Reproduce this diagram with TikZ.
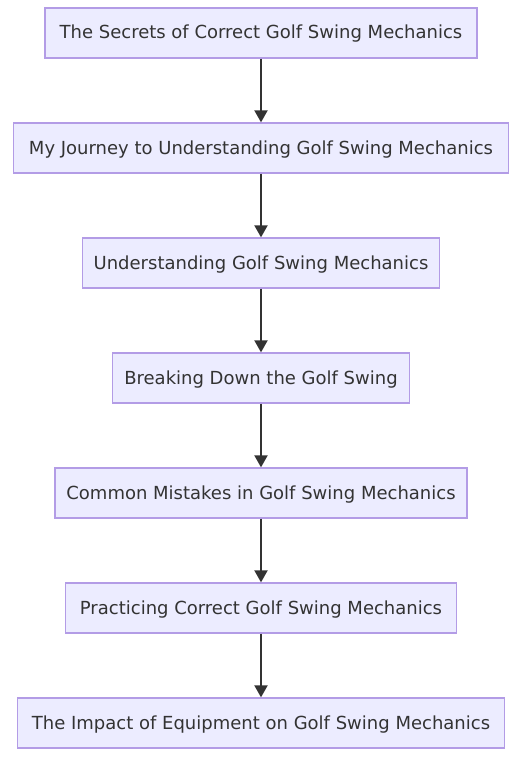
\documentclass[tikz,border=0pt]{standalone}
\usepackage{fontspec}
\setmainfont{DejaVu Sans}
\usetikzlibrary{arrows.meta}

\definecolor{boxfill}{HTML}{ECECFF}
\definecolor{boxline}{HTML}{B39CE6}
\definecolor{ink}{HTML}{333333}

\tikzset{
 stagebox/.style={draw=boxline, fill=boxfill, line width=1.3pt, minimum height=50pt,
  text=ink, font=\fontsize{18}{21}\selectfont, inner sep=0pt,
  text height=13pt, text depth=1pt},
 flow/.style={ink, line width=2pt, -{Triangle[length=12pt,width=13pt]}}
}

\begin{document}
\begin{tikzpicture}[x=1pt,y=1pt]
\useasboundingbox (0,0) rectangle (521,-757);
\node[stagebox, minimum width=432] (secrets) at (261,-33) {The Secrets of Correct Golf Swing Mechanics};
\node[stagebox, minimum width=495] (journey) at (261,-148) {My Journey to Understanding Golf Swing Mechanics};
\node[stagebox, minimum width=357] (understand) at (261,-263) {Understanding Golf Swing Mechanics};
\node[stagebox, minimum width=297] (breaking) at (261,-378) {Breaking Down the Golf Swing};
\node[stagebox, minimum width=412] (mistakes) at (261,-493) {Common Mistakes in Golf Swing Mechanics};
\node[stagebox, minimum width=391] (practice) at (261,-608) {Practicing Correct Golf Swing Mechanics};
\node[stagebox, minimum width=487] (equipment) at (261,-723) {The Impact of Equipment on Golf Swing Mechanics};
% arrows between the stages
\foreach \a/\b in {secrets/journey, journey/understand, understand/breaking,
 breaking/mistakes, mistakes/practice, practice/equipment} {
 \draw[flow] (\a.south) -- (\b.north);
}
\end{tikzpicture}
\end{document}
